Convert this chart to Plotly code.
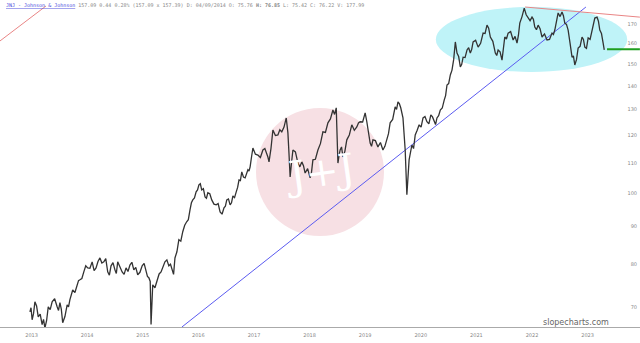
import math
import pandas as pd
import plotly.graph_objects as go

# ---- data ----
years = [2013.47, 2013.51, 2013.56, 2013.62, 2013.69, 2013.74, 2013.80, 2013.87, 2013.96, 2014.01,
         2014.06, 2014.14, 2014.19, 2014.24, 2014.32, 2014.37, 2014.44, 2014.51, 2014.59, 2014.66,
         2014.73, 2014.80, 2014.87, 2014.93, 2015.00, 2015.05, 2015.13, 2015.20, 2015.27, 2015.34,
         2015.41, 2015.49, 2015.56, 2015.61, 2015.65, 2015.68, 2015.76, 2015.83, 2015.90, 2015.97,
         2016.03, 2016.08, 2016.15, 2016.22, 2016.29, 2016.35, 2016.40, 2016.46, 2016.51, 2016.56,
         2016.62, 2016.67, 2016.74, 2016.82, 2016.89, 2016.96, 2017.01, 2017.07, 2017.12, 2017.18,
         2017.23, 2017.28, 2017.34, 2017.39, 2017.43, 2017.48, 2017.57, 2017.66, 2017.73, 2017.77,
         2017.84, 2017.93, 2018.00, 2018.08, 2018.11, 2018.15, 2018.20, 2018.29, 2018.36, 2018.42,
         2018.51, 2018.56, 2018.65, 2018.74, 2018.83, 2018.92, 2018.98, 2018.99, 2019.01, 2019.05,
         2019.10, 2019.17, 2019.26, 2019.35, 2019.41, 2019.50, 2019.53, 2019.59, 2019.64, 2019.73,
         2019.82, 2019.89, 2019.95, 2020.04, 2020.09, 2020.14, 2020.18, 2020.22, 2020.25, 2020.29,
         2020.34, 2020.40, 2020.47, 2020.54, 2020.61, 2020.68, 2020.74, 2020.79, 2020.85, 2020.92,
         2020.97, 2021.03, 2021.06, 2021.12, 2021.15, 2021.21, 2021.26, 2021.33, 2021.39, 2021.44,
         2021.53, 2021.62, 2021.69, 2021.75, 2021.84, 2021.89, 2021.96, 2022.01, 2022.07, 2022.16,
         2022.23, 2022.28, 2022.36, 2022.43, 2022.50, 2022.55, 2022.61, 2022.68, 2022.77, 2022.86,
         2022.91, 2022.97, 2023.04, 2023.09, 2023.15, 2023.22, 2023.27, 2023.33, 2023.40, 2023.45,
         2023.51, 2023.58, 2023.63, 2023.67, 2023.72, 2023.78, 2023.80]
prices = [68.9, 67.2, 71.1, 67.8, 66.2, 65.5, 70.0, 71.1, 70.0, 70.9,
          66.6, 70.4, 71.6, 73.8, 75.0, 76.2, 78.1, 79.1, 80.6, 79.1,
          81.6, 80.6, 78.1, 79.6, 78.6, 80.6, 78.1, 79.1, 79.8, 78.6,
          77.4, 79.6, 78.1, 76.7, 66.2, 75.0, 76.2, 78.1, 80.6, 79.6,
          78.6, 81.6, 86.4, 88.6, 91.4, 94.9, 97.9, 100.4, 102.6, 101.0,
          98.8, 100.1, 97.9, 96.4, 94.3, 95.5, 97.9, 96.4, 99.1, 100.4,
          104.2, 106.9, 104.9, 107.6, 108.6, 115.2, 112.7, 114.5, 113.4, 110.3,
          121.9, 120.0, 121.2, 126.6, 120.8, 105.2, 114.5, 109.9, 110.3, 106.5,
          104.9, 111.0, 114.5, 121.2, 124.7, 129.8, 130.7, 123.1, 109.9, 114.5,
          112.0, 118.2, 123.9, 123.1, 125.1, 128.6, 125.1, 117.0, 118.2, 115.6,
          114.5, 118.2, 124.7, 131.1, 133.1, 130.7, 126.6, 114.5, 99.5, 111.0,
          116.3, 120.0, 123.9, 126.6, 125.1, 127.8, 125.1, 126.6, 129.8, 133.9,
          140.4, 144.9, 147.1, 160.7, 155.2, 148.6, 153.2, 156.7, 155.2, 160.7,
          158.1, 165.2, 169.4, 163.2, 155.2, 156.7, 151.8, 163.2, 165.2, 161.7,
          160.1, 170.5, 178.7, 173.2, 173.7, 168.4, 169.4, 163.2, 161.7, 165.2,
          166.8, 176.0, 176.5, 170.5, 166.8, 153.2, 149.5, 157.6, 163.2, 158.1,
          162.7, 166.8, 173.2, 173.7, 166.8, 160.1, 156.7]

# additional in-between readings (short-term swings)
extra_years = [2013.49, 2013.535, 2013.59, 2013.655, 2013.715, 2013.77, 2013.835, 2013.915, 2013.985,
               2014.035, 2014.10, 2014.165, 2014.215, 2014.28, 2014.345, 2014.405, 2014.475, 2014.55,
               2014.625, 2014.695, 2014.765, 2014.835, 2014.90, 2014.965, 2015.025, 2015.09, 2015.165,
               2015.235, 2015.305, 2015.375, 2015.45, 2015.525, 2015.585, 2015.635, 2015.665, 2015.72,
               2015.795, 2015.865, 2015.935, 2016.00, 2016.055, 2016.115, 2016.185, 2016.255, 2016.32,
               2016.375, 2016.43, 2016.485, 2016.535, 2016.59, 2016.645, 2016.705, 2016.78, 2016.855,
               2016.925, 2016.985, 2017.04, 2017.095, 2017.15, 2017.205, 2017.255, 2017.31, 2017.365,
               2017.41, 2017.455, 2017.525, 2017.615, 2017.695, 2017.75, 2017.805, 2017.885, 2017.965,
               2018.04, 2018.095, 2018.13, 2018.175, 2018.245, 2018.325, 2018.39, 2018.465, 2018.535,
               2018.605, 2018.695, 2018.785, 2018.875, 2018.95, 2019.03, 2019.075, 2019.135, 2019.215,
               2019.305, 2019.38, 2019.455, 2019.56, 2019.615, 2019.685, 2019.775, 2019.855, 2019.92,
               2019.995, 2020.065, 2020.115, 2020.315, 2020.37, 2020.435, 2020.505, 2020.575, 2020.645,
               2020.71, 2020.765, 2020.82, 2020.885, 2020.945, 2021.00, 2021.09, 2021.18, 2021.235,
               2021.295, 2021.36, 2021.415, 2021.485, 2021.575, 2021.655, 2021.72, 2021.795, 2021.865,
               2021.925, 2021.985, 2022.04, 2022.115, 2022.195, 2022.255, 2022.32, 2022.395, 2022.465,
               2022.525, 2022.58, 2022.645, 2022.725, 2022.815, 2022.885, 2022.94, 2023.005, 2023.065,
               2023.12, 2023.185, 2023.245, 2023.30, 2023.365, 2023.425, 2023.48, 2023.545, 2023.605,
               2023.695, 2023.75]
extra_prices = [69.8, 68.5, 70.2, 68.4, 67.3, 67.0, 69.4, 71.8, 69.2,
                69.5, 67.9, 70.0, 73.1, 73.2, 76.0, 76.5, 79.6, 79.0,
                78.4, 80.7, 80.3, 81.4, 77.3, 80.4, 77.7, 79.3, 77.5,
                78.2, 80.5, 79.2, 78.0, 80.2, 77.0, 75.8, 73.0, 74.3,
                77.6, 79.2, 81.1, 80.0, 77.5, 83.2, 86.0, 90.4, 92.0,
                97.0, 98.5, 101.0, 103.0, 101.4, 98.4, 99.8, 96.6, 96.8,
                93.6, 96.0, 98.2, 97.0, 98.6, 101.8, 104.0, 105.2, 106.2,
                107.2, 112.0, 113.0, 111.8, 115.0, 112.0, 115.0, 119.8, 122.0,
                123.0, 124.5, 113.0, 110.0, 113.8, 108.6, 109.0, 108.0, 106.8,
                111.2, 116.8, 121.0, 126.2, 128.0, 112.5, 115.6, 114.0, 120.0,
                121.8, 124.6, 125.0, 121.0, 115.8, 117.9, 117.2, 115.8, 120.5,
                126.0, 130.0, 132.4, 114.5, 115.0, 121.8, 123.0, 127.2, 124.3,
                127.0, 124.0, 127.5, 130.6, 135.8, 141.0, 152.0, 153.5, 149.8,
                153.0, 157.8, 157.0, 161.5, 160.0, 165.0, 167.8, 161.0, 154.0,
                155.8, 157.0, 162.2, 166.0, 163.5, 164.0, 174.0, 175.0, 171.8,
                172.5, 167.0, 167.5, 164.8, 162.0, 164.5, 171.0, 174.0, 174.5,
                169.8, 160.0, 153.8, 152.0, 158.5, 162.0, 157.5, 162.0, 168.5,
                171.5, 165.0]

tick_years = [2013, 2014, 2015, 2016, 2017, 2018, 2019, 2020, 2021, 2022, 2023]
price_ticks = [70, 80, 90, 100, 110, 120, 130, 140, 150, 160, 170]

blue_trend_years = [2016.205, 2023.47]
blue_trend_prices = [65.7, 179.3]
red_top_years = [2022.375, 2024.44]
red_top_prices = [179.3, 173.7]
red_left_years = [2012.932, 2013.76]
red_left_prices = [161.2, 179.9]
last_price_years = [2023.85, 2024.44]
last_price = [157.1, 157.1]

x_range_years = [2012.932, 2024.442]
y_range_prices = [65.7, 183.3]


def to_date(t):
    y = int(t)
    a = pd.Timestamp(y, 1, 1)
    b = pd.Timestamp(y + 1, 1, 1)
    return a + (b - a) * (t - y)


def dates(lst):
    return [to_date(t) for t in lst]


series = sorted(zip(years + extra_years, prices + extra_prices))
s_years = [a for a, _ in series]
s_prices = [b for _, b in series]

fig = go.Figure()

fig.add_trace(go.Scatter(x=dates(blue_trend_years), y=blue_trend_prices, mode="lines",
                         line=dict(color="#5b5bf0", width=1), hoverinfo="skip"))
fig.add_trace(go.Scatter(x=dates(s_years), y=s_prices, mode="lines",
                         line=dict(color="#333333", width=1.3)))
fig.add_trace(go.Scatter(x=dates(red_top_years), y=red_top_prices, mode="lines",
                         line=dict(color="#e98585", width=1), hoverinfo="skip"))
fig.add_trace(go.Scatter(x=dates(red_left_years), y=red_left_prices, mode="lines",
                         line=dict(color="#e98585", width=1), hoverinfo="skip"))
fig.add_trace(go.Scatter(x=dates(last_price_years), y=last_price, mode="lines",
                         line=dict(color="#1f9e1f", width=2), hoverinfo="skip"))

shapes = [
    dict(type="circle", xref="paper", yref="paper", x0=0.681, x1=0.980, y0=0.780, y1=0.979,
         fillcolor="#bff3f8", line=dict(width=0), layer="below"),
    dict(type="circle", xref="paper", yref="paper", x0=0.400, x1=0.600, y0=0.278, y1=0.670,
         fillcolor="#f7e0e4", line=dict(width=0), layer="below"),
]

annotations = [
    dict(text="J+J", xref="paper", yref="paper", x=0.5, y=0.474, showarrow=False,
         font=dict(family="DejaVu Serif", size=40, color="white"), textangle=-8),
    dict(text="slopecharts.com", xref="paper", yref="paper", x=0.955, y=-0.005,
         xanchor="right", yanchor="bottom", showarrow=False,
         font=dict(family="DejaVu Sans", size=8, color="#666666")),
    dict(text="<span style='color:#4a4adc'><u>JNJ - Johnson & Johnson</u></span>"
              " 157.09 0.44 0.28% (157.09 x 157.39) D: 04/09/2014 O: 75.76 "
              "<b>H: 76.85</b> L: 75.42 C: 76.22 V: 177.99",
         xref="paper", yref="paper", x=0.006, y=1.0, xanchor="left", yanchor="top",
         showarrow=False, font=dict(family="DejaVu Sans Mono", size=5, color="#888888")),
]

fig.update_layout(
    width=640, height=343,
    margin=dict(l=0, r=0, t=0, b=16),
    paper_bgcolor="white", plot_bgcolor="white",
    showlegend=False,
    shapes=shapes, annotations=annotations,
    xaxis=dict(type="date", range=dates(x_range_years),
               tickvals=[to_date(y + 0.5) for y in tick_years],
               ticktext=[str(y) for y in tick_years],
               showgrid=False,
               showline=True, linecolor="#aaaaaa", linewidth=1,
               ticks="", ticklabelstandoff=3,
               tickfont=dict(family="DejaVu Sans", size=5, color="#888888"),
               zeroline=False),
    yaxis=dict(type="log", range=[math.log10(v) for v in y_range_prices],
               side="right", ticklabelposition="inside",
               tickvals=price_ticks, ticktext=[str(v) for v in price_ticks],
               showgrid=False, showline=False, ticks="", zeroline=False,
               tickfont=dict(family="DejaVu Sans", size=5, color="#888888")),
)

fig.write_html("out.html")
